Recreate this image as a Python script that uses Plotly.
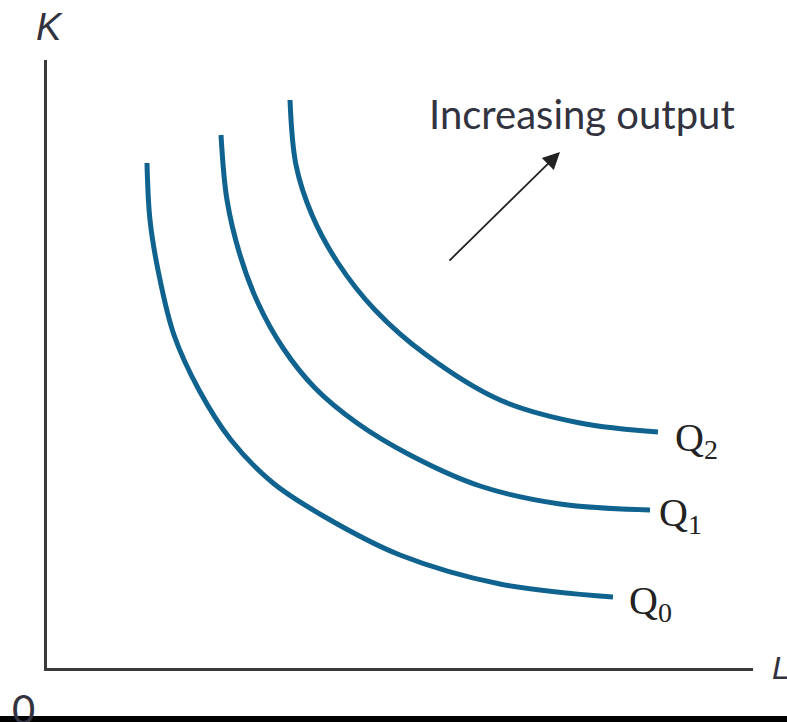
import plotly.graph_objects as go

# Isoquant data (L on x, K on y), arbitrary units
q0_L = [10.0, 10.3, 11.2, 12.7, 15.2, 18.4, 22.6, 27.8, 35.3, 45.3, 56.6]
q0_K = [50.5, 44.8, 39.3, 33.3, 27.8, 22.8, 18.5, 15.1, 11.3, 8.4, 7.1]

q1_L = [17.4, 18.0, 19.3, 21.1, 23.6, 26.8, 31.0, 36.3, 43.3, 51.3, 60.3]
q1_K = [53.3, 46.8, 41.3, 36.5, 32.0, 28.0, 24.5, 21.3, 18.2, 16.4, 15.8]

q2_L = [24.3, 24.9, 26.5, 29.1, 32.8, 37.8, 45.3, 53.3, 61.1]
q2_K = [56.8, 50.3, 45.3, 40.5, 35.8, 31.4, 26.8, 24.5, 23.6]

curve_names = ["Q<sub>0</sub>", "Q<sub>1</sub>", "Q<sub>2</sub>"]
label_L = [58.0, 61.0, 62.6]
label_K = [6.5, 15.3, 22.8]

arrow_tail = (40.1, 40.6)
arrow_head = (51.3, 51.6)
arrow_text = "Increasing output"

COLOR = "#10638f"
AXIS = "#3a3a3a"

fig = go.Figure()
for L, K in [(q0_L, q0_K), (q1_L, q1_K), (q2_L, q2_K)]:
    fig.add_trace(go.Scatter(x=L, y=K, mode="lines",
                             line=dict(color=COLOR, width=5, shape="spline", smoothing=1.0),
                             hoverinfo="skip", showlegend=False))

# curve labels at the end of each curve
for lx, ly, name in zip(label_L, label_K, curve_names):
    fig.add_annotation(x=lx, y=ly, text=name, showarrow=False, xanchor="left", yanchor="middle",
                       font=dict(family="Liberation Serif", size=40, color="#222222"))

# arrow
fig.add_annotation(x=arrow_head[0], y=arrow_head[1], ax=arrow_tail[0], ay=arrow_tail[1],
                   xref="x", yref="y", axref="x", ayref="y", text="", showarrow=True,
                   arrowhead=2, arrowsize=1.9, arrowwidth=1.8, arrowcolor="#222222", standoff=0)
fig.add_annotation(x=38.0, y=55.4, text=arrow_text, showarrow=False, xanchor="left", yanchor="middle",
                   font=dict(family="Lato", size=40, color="#333340"))

# axis labels
fig.add_annotation(x=0.004, y=1.055, xref="paper", yref="paper", text="<i>K</i>", showarrow=False,
                   xanchor="center", yanchor="middle", font=dict(family="Liberation Sans", size=38, color="#333340"))
fig.add_annotation(x=1.039, y=0.0, xref="paper", yref="paper", text="<i>L</i>", showarrow=False,
                   xanchor="center", yanchor="middle", font=dict(family="Liberation Sans", size=32, color="#333340"))
fig.add_annotation(x=-0.033, y=-0.068, xref="paper", yref="paper", text="0", showarrow=False,
                   xanchor="center", yanchor="middle", font=dict(family="Lato", size=40, color="#333340"))

# black band at the very bottom (scan edge)
fig.add_shape(type="rect", xref="paper", yref="paper", x0=-0.1, x1=1.1, y0=-0.0789, y1=-0.1,
              fillcolor="black", line=dict(width=0), layer="above")

fig.update_xaxes(range=[0, 70.6], showline=True, linecolor=AXIS, linewidth=2.5, showgrid=False,
                 zeroline=False, showticklabels=False, ticks="", fixedrange=True)
fig.update_yaxes(range=[0, 60.8], showline=True, linecolor=AXIS, linewidth=2.5, showgrid=False,
                 zeroline=False, showticklabels=False, ticks="", fixedrange=True)
fig.update_layout(width=787, height=722, margin=dict(l=47, r=34, t=60, b=54),
                  plot_bgcolor="white", paper_bgcolor="white")
fig.write_html("out.html", config={"displayModeBar": False},
               post_script="document.body.style.margin='0';document.body.style.overflow='hidden';")
